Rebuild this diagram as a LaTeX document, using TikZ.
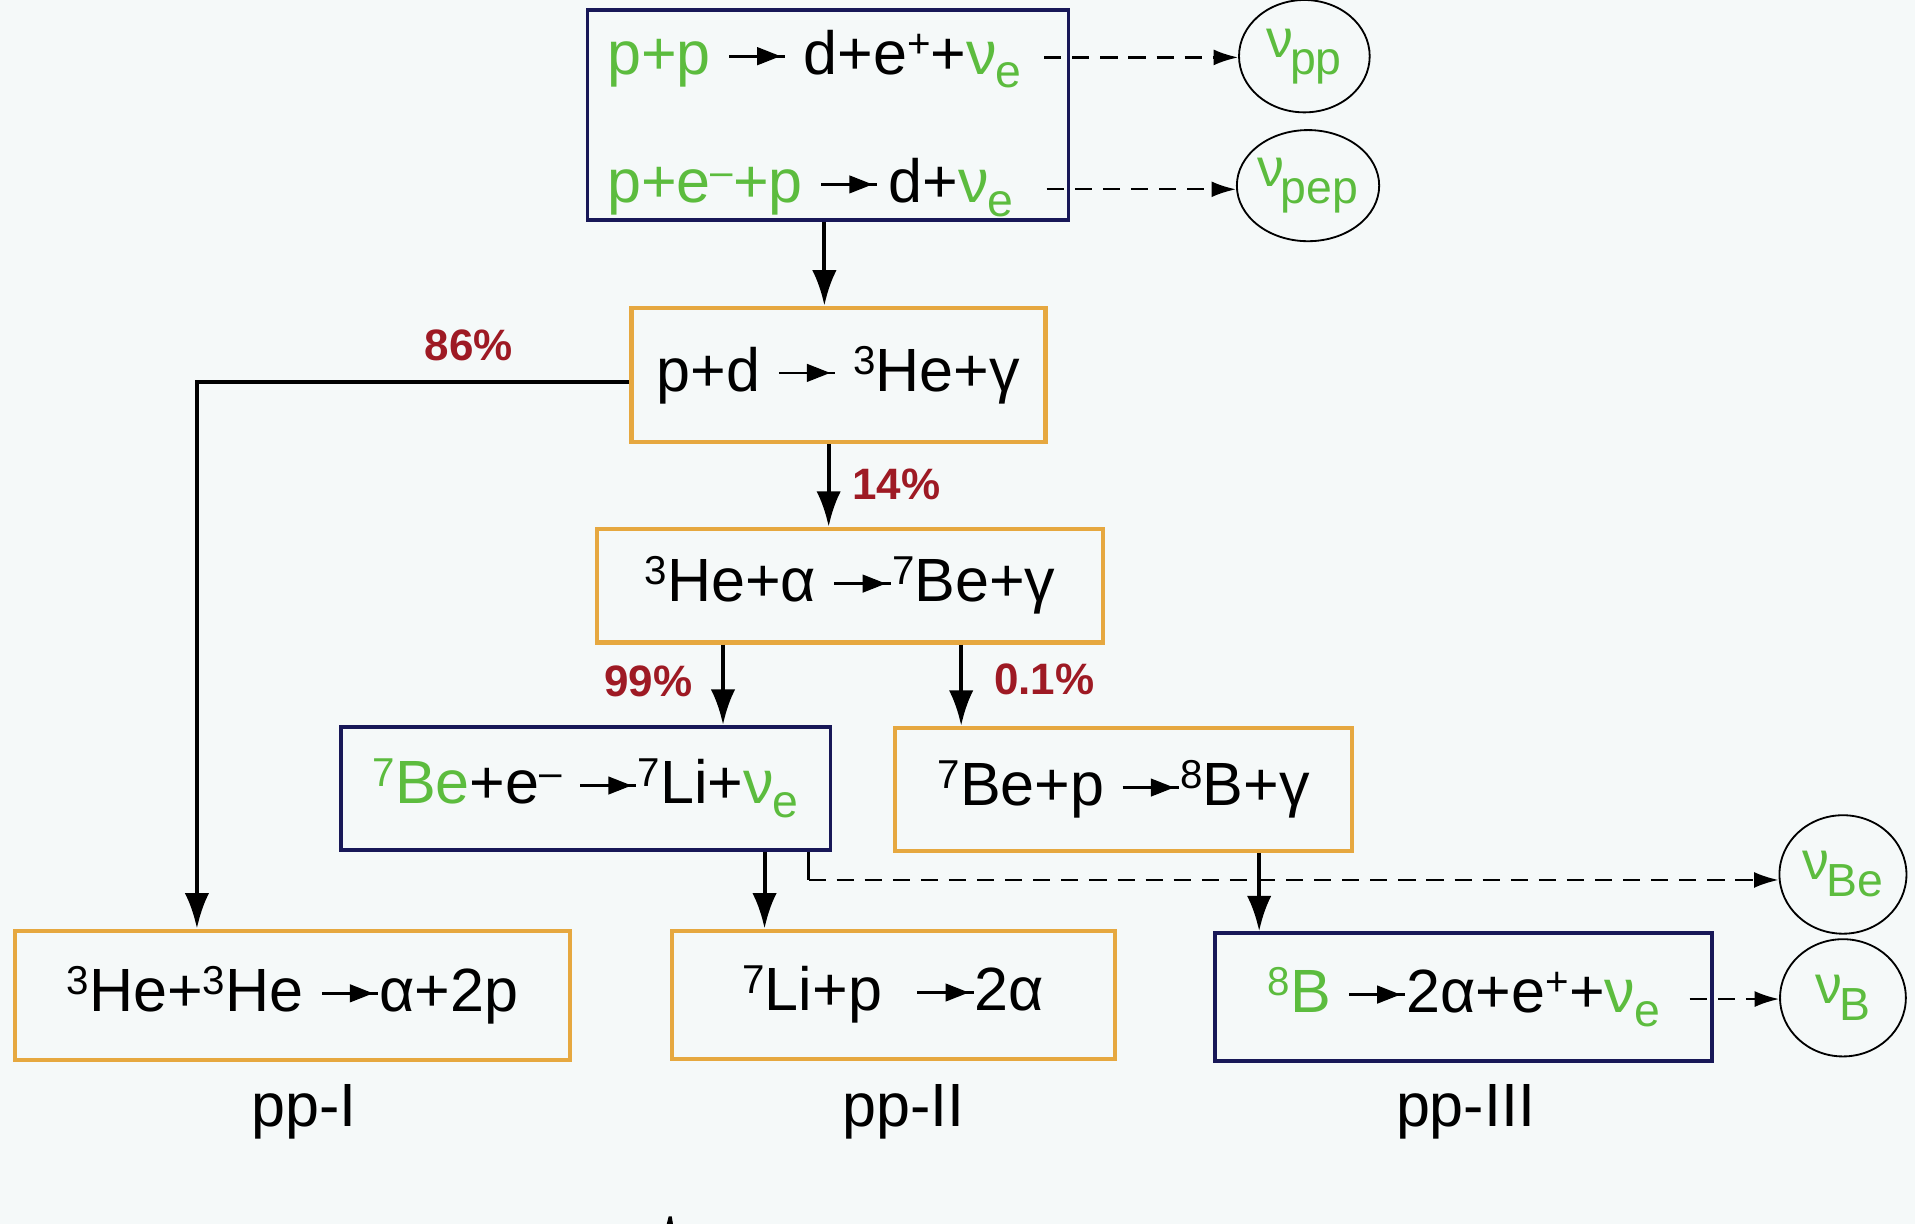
\documentclass[tikz,border=0pt]{standalone}
\usepackage{fontspec}
\setmainfont{Liberation Sans}
\usetikzlibrary{arrows.meta,calc,shapes.geometric}

\definecolor{nugreen}{RGB}{92,188,62}
\definecolor{boxorange}{RGB}{230,168,64}
\definecolor{boxblue}{RGB}{24,24,88}
\definecolor{pctred}{RGB}{158,26,36}
\definecolor{paper}{RGB}{245,249,249}

% reaction arrow used inside the equations: a thin shaft with a filled head
\newcommand\rx{\tikz[baseline=-15pt]{\draw[line width=2.2pt] (0pt,0pt) -- (46pt,0pt);
  \fill (23pt,7.5pt) -- (42pt,0pt) -- (23pt,-7.5pt) -- cycle;}}
\newcommand\gr[1]{\textcolor{nugreen}{#1}}
\newcommand\sps[1]{\raisebox{14pt}{\fontsize{33}{33}\selectfont #1}}
\newcommand\nue{\gr{ν\kern-1pt\raisebox{-11pt}{\fontsize{38}{38}\selectfont e}}}
\newcommand\nusub[1]{\gr{\raisebox{6pt}{ν}\kern-3pt\raisebox{-8pt}{\fontsize{38}{38}\selectfont #1}}}

\begin{document}
\begin{tikzpicture}[x=1pt,y=-1pt,
  txt/.style={font=\fontsize{50}{58}\selectfont, inner sep=0pt},
  orangebox/.style={draw=boxorange, line width=3.5pt, inner sep=0pt, font=\fontsize{50}{58}\selectfont},
  bluebox/.style={draw=boxblue, line width=3pt, inner sep=0pt, font=\fontsize{50}{58}\selectfont},
  nucirc/.style={ellipse, draw, line width=1.5pt, inner sep=0pt, font=\fontsize{44}{50}\selectfont},
  pct/.style={text=pctred, font=\bfseries\fontsize{36}{40}\selectfont, inner sep=0pt},
  chain/.style={font=\fontsize{50}{58}\selectfont, inner sep=0pt},
  arr/.style={line width=3.3pt, -{Latex[length=29pt,width=20pt]}},
  darr/.style={line width=1.8pt, dash pattern=on 14pt off 9pt, -{Latex[length=20pt,width=13pt]}},
]
\fill[paper] (0,0) rectangle (1568,1002);
\useasboundingbox (0,0) rectangle (1568,1002);

% first step: deuterium production
\node[bluebox, minimum width=394pt, minimum height=172pt] (top) at (678,94) {};
\node[txt, anchor=base west] (ppline) at (497,61) {\gr{p+p} \rx\ d+e\sps{+}+\nue};
\node[txt, anchor=base west] (pepline) at (497,166) {\gr{p+e\sps{–}+p} \rx\,d+\nue};
\coordinate (ppend) at (855,47);
\coordinate (pepend) at (857,155);

\node[nucirc, minimum width=107pt, minimum height=92pt] (nupp) at (1068,46) {\nusub{pp}};
\node[nucirc, minimum width=106pt, minimum height=91pt] (nupep) at (1071,152) {\nusub{pep}};

% the chain
\node[orangebox, minimum width=339pt, minimum height=110pt] (pd) at (686.5,307) {p+d \rx\ \sps{3}He+γ};
\node[orangebox, minimum width=414pt, minimum height=93pt] (hea) at (696,479.5) {\sps{3}He+α\ \rx\sps{7}Be+γ};
\node[bluebox, minimum width=401pt, minimum height=101pt] (bee) at (479.5,645.5) {\gr{\sps{7}Be}+e\sps{–} \rx\sps{7}Li+\nue\hspace{18pt}};
\node[orangebox, minimum width=374pt, minimum height=101pt] (bep) at (920,646.5) {\sps{7}Be+p\ \rx\sps{8}B+γ};

\node[orangebox, minimum width=455pt, minimum height=106pt] (ppI) at (239.5,815) {\sps{3}He+\sps{3}He \rx α+2p};
\node[orangebox, minimum width=363pt, minimum height=105pt] (ppII) at (731.5,814.5) {\sps{7}Li+p\ \ \rx 2α};
\node[bluebox, minimum width=407pt, minimum height=105pt] (ppIII) at (1198.5,816.5) {\gr{\sps{8}B} \rx 2α+e\sps{+}+\nue};

\node[nucirc, minimum width=104pt, minimum height=97pt] (nuBe) at (1509,716) {\nusub{Be}};
\node[nucirc, minimum width=103pt, minimum height=96pt] (nuB) at (1509,817) {\nusub{B}};

% branch labels
\node[chain] (lI) at (249,910) {pp-I};
\node[chain] (lII) at (740,910) {pp-II};
\node[chain] (lIII) at (1200,910) {pp-III};

% branching ratios
\node[pct] (p86) at (384,283) {86\%};
\node[pct] (p14) at (734,397) {14\%};
\node[pct] (p99) at (531,558) {99\%};
\node[pct] (p01) at (855,556) {0.1\%};

% connectors
\draw[arr] ([xshift=-3pt]top.south) -- ([xshift=-3pt]top.south |- pd.north);
\draw[arr] ([yshift=-6pt]pd.west) -| ([xshift=151pt]ppI.north west);
\draw[arr] ([xshift=-8pt]pd.south) -- ([xshift=-8pt]pd.south |- hea.north);
\draw[arr] ([xshift=-104pt]hea.south) -- ([xshift=-104pt]hea.south |- bee.north);
\draw[arr] ([xshift=91pt]hea.south) -- ([xshift=91pt]hea.south |- bep.north);
\draw[arr] ([xshift=146.5pt]bee.south) -- ([xshift=146.5pt]bee.south |- ppII.north);
\draw[arr] ([xshift=111pt]bep.south) -- ([xshift=111pt]bep.south |- ppIII.north);

% neutrino emission
\coordinate (beturn) at ([xshift=182.5pt,yshift=-23pt]bee.south);
\draw[line width=1.8pt] ([xshift=182.5pt]bee.south) -- (beturn);
\draw[darr] (beturn) -- (beturn -| nuBe.west);
\draw[darr] (ppend) -- (ppend -| nupp.west);
\draw[darr] (pepend) -- (pepend -| nupep.west);
\coordinate (bend) at ([xshift=-20pt,yshift=-1.5pt]ppIII.east);
\draw[darr] (bend) -- (bend -| nuB.west);

% small stroke at the lower edge
\fill (546,1002) -- (547.5,996) -- (550,996) -- (551,1002) -- cycle;
\end{tikzpicture}
\end{document}
